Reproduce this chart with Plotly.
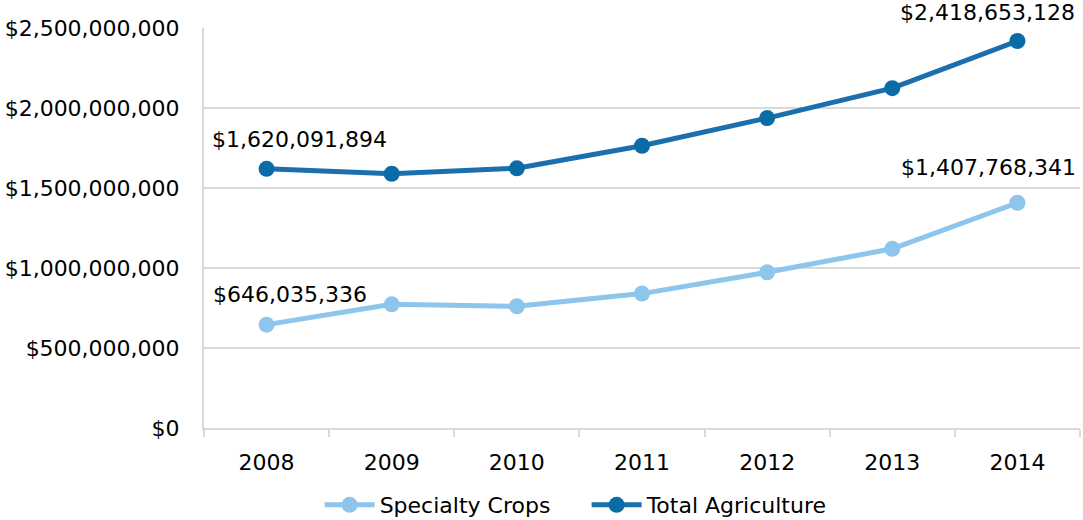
import plotly.graph_objects as go

years = ["2008", "2009", "2010", "2011", "2012", "2013", "2014"]
specialty = [646035336, 773000000, 761000000, 840000000, 973000000, 1120000000, 1407768341]
total = [1620091894, 1589000000, 1623000000, 1764000000, 1937000000, 2124000000, 2418653128]

FONT = "DejaVu Sans"
C_SPEC = "#8DC5EC"
C_TOT = "#1B6FAF"
C_TOT_M = "#0B6BA6"

fig = go.Figure()
fig.add_trace(go.Scatter(x=years, y=specialty, name="Specialty Crops", mode="lines+markers",
                         line=dict(color=C_SPEC, width=5), marker=dict(color=C_SPEC, size=16)))
fig.add_trace(go.Scatter(x=years, y=total, name="Total Agriculture", mode="lines+markers",
                         line=dict(color=C_TOT, width=5), marker=dict(color=C_TOT_M, size=16)))

# (category index, value, xshift, yshift)
labels = [
    (0, total[0], 33, 29),
    (len(years) - 1, total[-1], -30, 29),
    (0, specialty[0], 23, 30),
    (len(years) - 1, specialty[-1], -29, 35),
]
for xi, y, xs, ys in labels:
    fig.add_annotation(x=xi, y=y, xref="x", yref="y", text=f"${y:,.0f}", showarrow=False,
                       xshift=xs, yshift=ys, font=dict(family=FONT, size=22, color="#000000"))

fig.update_layout(
    width=1083, height=520,
    margin=dict(l=204, r=3, t=28, b=92, autoexpand=False),
    paper_bgcolor="white", plot_bgcolor="white",
    font=dict(family=FONT, size=22, color="#000000"),
    showlegend=True,
    legend=dict(orientation="h", x=0.132, xanchor="left", y=-0.1925, yanchor="middle",
                font=dict(family=FONT, size=22), itemwidth=50, tracegroupgap=0,
                entrywidth=202),
)
fig.update_xaxes(type="category", showgrid=False, showline=True, linecolor="#D9D9D9", linewidth=2,
                 ticks="outside", tickson="boundaries", ticklen=7, tickcolor="#D9D9D9", tickwidth=2,
                 ticklabelstandoff=14, range=[-0.5, 6.5], fixedrange=True)
fig.update_yaxes(range=[0, 2500000000], dtick=500000000, tickprefix="$", tickformat=",d",
                 showgrid=True, gridcolor="#D9D9D9", gridwidth=2, showline=True, linecolor="#D9D9D9",
                 linewidth=2, zeroline=False, ticks="", ticklabelstandoff=18, fixedrange=True)

fig.write_html("out.html", config={"displayModeBar": False},
               post_script="document.body.style.margin='0px';")
